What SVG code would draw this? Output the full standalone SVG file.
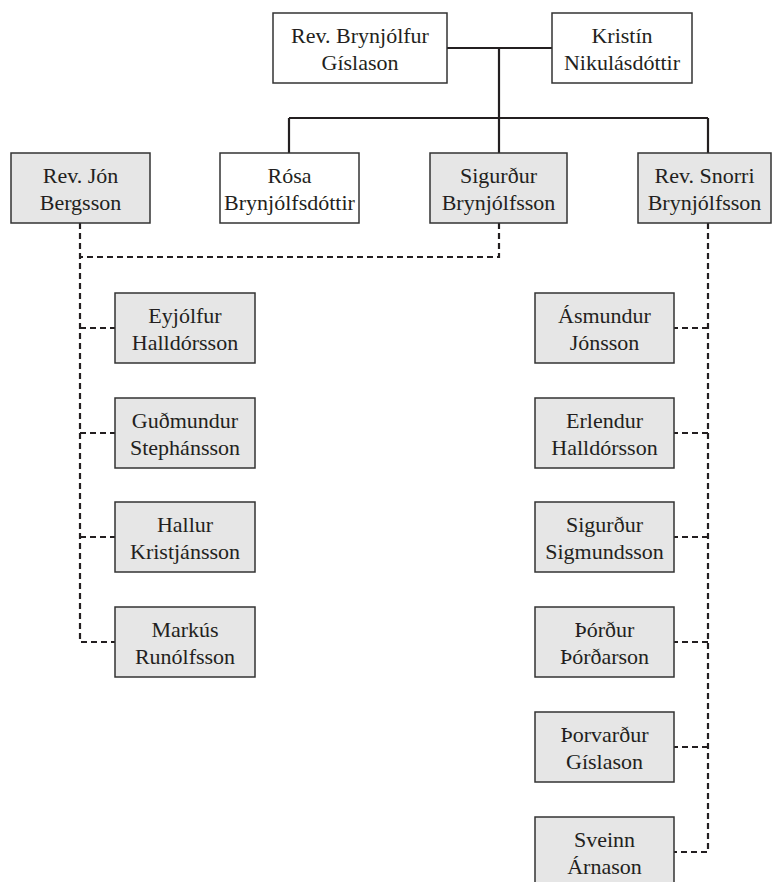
<svg xmlns="http://www.w3.org/2000/svg" width="773" height="882" viewBox="0 0 773 882">
<style>
.w{fill:#fff;stroke:#333;stroke-width:1.5}
.g{fill:#e6e6e6;stroke:#333;stroke-width:1.5}
.t text{font-size:22px;fill:#231f20;text-anchor:middle}
.s{fill:none;stroke:#231f20;stroke-width:2.2}
.d{fill:none;stroke:#231f20;stroke-width:2.2;stroke-dasharray:6 4}
</style>
<rect width="773" height="882" fill="#fff"/>
<g id="connectors">
<path class="s" d="M447,48 H552 M499,48 V118 M289,118 H708 M289,118 V153 M499,118 V153 M708,118 V153"/>
<path class="d" d="M80,223 V642 H115 M499,223 V257 H80 M80,328 H115 M80,433 H115 M80,537 H115"/>
<path class="d" d="M708,223 V852 H674 M708,328 H674 M708,433 H674 M708,537 H674 M708,642 H674 M708,747 H674"/>
</g>
<g class="t" font-family="'Liberation Serif', 'Times New Roman', serif">
<g id="brynjolfur"><rect class="w" x="273" y="13" width="174" height="70"/><text x="360" y="43">Rev. Brynjólfur</text><text x="360" y="70">Gíslason</text></g>
<g id="kristin"><rect class="w" x="552" y="13" width="140" height="70"/><text x="622" y="43">Kristín</text><text x="622" y="70">Nikulásdóttir</text></g>
<g id="jon"><rect class="g" x="11" y="153" width="139" height="70"/><text x="80.5" y="183">Rev. Jón</text><text x="80.5" y="210">Bergsson</text></g>
<g id="rosa"><rect class="w" x="220" y="153" width="139" height="70"/><text x="289.5" y="183">Rósa</text><text x="289.5" y="210">Brynjólfsdóttir</text></g>
<g id="sigurdur"><rect class="g" x="430" y="153" width="137" height="70"/><text x="498.5" y="183">Sigurður</text><text x="498.5" y="210">Brynjólfsson</text></g>
<g id="snorri"><rect class="g" x="638" y="153" width="133" height="70"/><text x="704.5" y="183">Rev. Snorri</text><text x="704.5" y="210">Brynjólfsson</text></g>
<g id="eyjolfur"><rect class="g" x="115" y="293" width="140" height="70"/><text x="185" y="323">Eyjólfur</text><text x="185" y="350">Halldórsson</text></g>
<g id="gudmundur"><rect class="g" x="115" y="398" width="140" height="70"/><text x="185" y="428">Guðmundur</text><text x="185" y="455">Stephánsson</text></g>
<g id="hallur"><rect class="g" x="115" y="502" width="140" height="70"/><text x="185" y="532">Hallur</text><text x="185" y="559">Kristjánsson</text></g>
<g id="markus"><rect class="g" x="115" y="607" width="140" height="70"/><text x="185" y="637">Markús</text><text x="185" y="664">Runólfsson</text></g>
<g id="asmundur"><rect class="g" x="535" y="293" width="139" height="70"/><text x="604.5" y="323">Ásmundur</text><text x="604.5" y="350">Jónsson</text></g>
<g id="erlendur"><rect class="g" x="535" y="398" width="139" height="70"/><text x="604.5" y="428">Erlendur</text><text x="604.5" y="455">Halldórsson</text></g>
<g id="sigurdur-s"><rect class="g" x="535" y="502" width="139" height="70"/><text x="604.5" y="532">Sigurður</text><text x="604.5" y="559">Sigmundsson</text></g>
<g id="thordur"><rect class="g" x="535" y="607" width="139" height="70"/><text x="604.5" y="637">Þórður</text><text x="604.5" y="664">Þórðarson</text></g>
<g id="thorvardur"><rect class="g" x="535" y="712" width="139" height="70"/><text x="604.5" y="742">Þorvarður</text><text x="604.5" y="769">Gíslason</text></g>
<g id="sveinn"><rect class="g" x="535" y="817" width="139" height="70"/><text x="604.5" y="847">Sveinn</text><text x="604.5" y="874">Árnason</text></g>
</g>
</svg>
